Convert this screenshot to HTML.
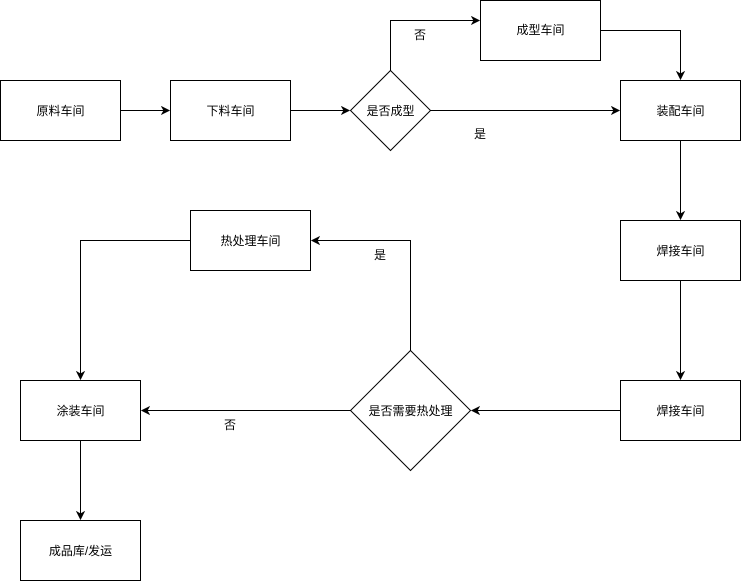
<!DOCTYPE html>
<html><head><meta charset="utf-8"><style>
html,body{margin:0;padding:0;background:#fff;}
svg{display:block;}
text{font-family:"Liberation Sans","Noto Sans CJK SC",sans-serif;font-size:12px;fill:#000;}
</style></head><body>
<svg width="741" height="581" viewBox="0 0 741 581" xmlns="http://www.w3.org/2000/svg">
<defs><marker id="a" markerWidth="10" markerHeight="10" refX="8" refY="5" orient="auto" markerUnits="userSpaceOnUse"><path d="M1,1.5 L8,5 L1,8.5 L3,5 Z" fill="#000" stroke="#000"/></marker></defs>
<g fill="#fff" stroke="#000" stroke-width="1">
<rect x="0.5" y="80.5" width="120" height="60"/>
<rect x="170.5" y="80.5" width="120" height="60"/>
<polygon points="390.5,70.5 430.5,110.5 390.5,150.5 350.5,110.5"/>
<rect x="480.5" y="0.5" width="120" height="60"/>
<rect x="620.5" y="80.5" width="120" height="60"/>
<rect x="620.5" y="220.5" width="120" height="60"/>
<rect x="620.5" y="380.5" width="120" height="60"/>
<polygon points="410.5,350.5 470.5,410.5 410.5,470.5 350.5,410.5"/>
<rect x="190.5" y="210.5" width="120" height="60"/>
<rect x="20.5" y="380.5" width="120" height="60"/>
<rect x="20.5" y="520.5" width="120" height="60"/>
</g>
<g fill="none" stroke="#000" stroke-width="1" marker-end="url(#a)">
<path d="M120.5,110.5 H169"/>
<path d="M290.5,110.5 H349"/>
<path d="M390.5,70.5 V20.5 H479"/>
<path d="M430.5,110.5 H619"/>
<path d="M600.5,30.5 H680.5 V79"/>
<path d="M680.5,140.5 V219"/>
<path d="M680.5,280.5 V379"/>
<path d="M620.5,410.5 H472"/>
<path d="M410.5,350.5 V240.5 H312"/>
<path d="M350.5,410.5 H142"/>
<path d="M190.5,240.5 H80.5 V379"/>
<path d="M80.5,440.5 V519"/>
</g>
<g text-anchor="middle">
<text x="60.5" y="115">原料车间</text>
<text x="230.5" y="115">下料车间</text>
<text x="390.5" y="115">是否成型</text>
<text x="540.5" y="34">成型车间</text>
<text x="680.5" y="115">装配车间</text>
<text x="680.5" y="255">焊接车间</text>
<text x="680.5" y="415">焊接车间</text>
<text x="410.5" y="415">是否需要热处理</text>
<text x="250.5" y="245">热处理车间</text>
<text x="80.5" y="415">涂装车间</text>
<text x="80.5" y="555">成品库/发运</text>
<text x="420" y="39">否</text>
<text x="480" y="138">是</text>
<text x="380" y="259">是</text>
<text x="230" y="429">否</text>
</g>
</svg>
</body></html>
